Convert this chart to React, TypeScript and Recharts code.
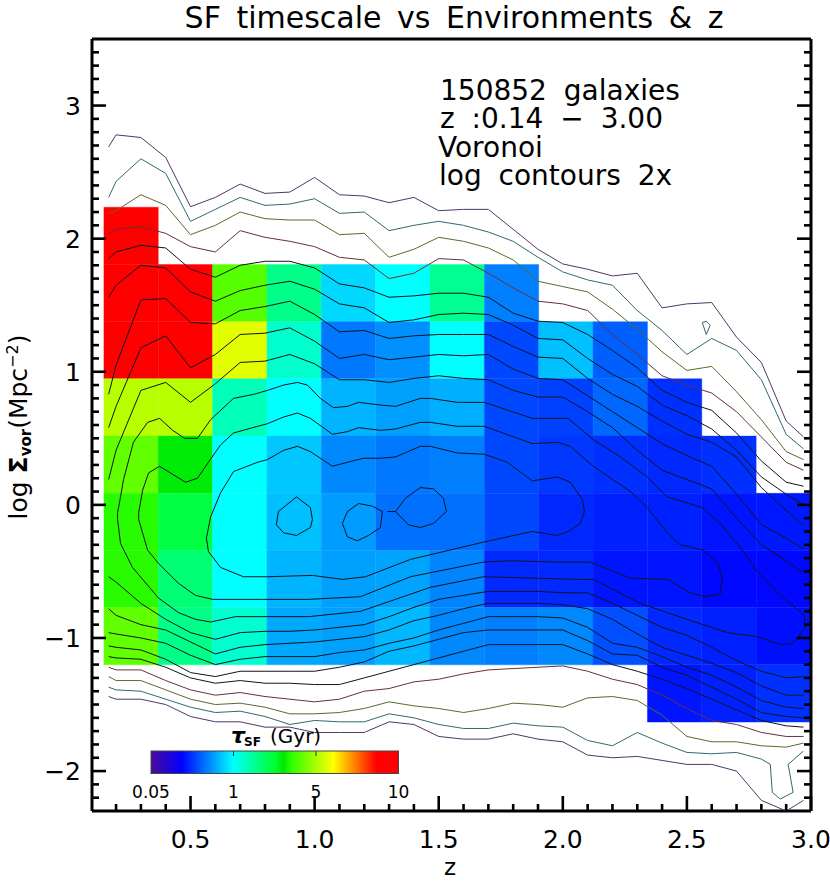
import React from 'react';
import { ScatterChart, Scatter, XAxis, YAxis, ReferenceArea } from 'recharts';

// heat map: edges of the z / log sigma bins
const zEdges = [0.151, 0.37, 0.589, 0.808, 1.027, 1.246, 1.465, 1.684, 1.903, 2.122, 2.341, 2.56, 2.779, 2.998];
const sigmaEdges = [2.236, 1.806, 1.376, 0.947, 0.517, 0.087, -0.343, -0.772, -1.202, -1.632];

// SF timescale in Gyr per bin, rows go from high to low density
const tauRows: (number | null)[][] = [
  [9, null, null, null, null, null, null, null, null, null, null, null, null],
  [9, 9, 3.63, 1.58, 0.75, 1, 1.53, 0.392, null, null, null, null, null],
  [9, 9, 5.5, 1.22, 0.37, 0.441, 1, 0.259, 0.628, 0.309, null, null, null],
  [5.14, 5.14, 1.31, 1, 0.575, 0.496, 0.558, 0.259, 0.245, 0.328, 0.217, null, null],
  [3.79, 2.59, 1, 0.667, 0.416, 0.37, 0.392, 0.259, 0.231, 0.217, 0.205, 0.217, null],
  [3.06, 2.08, 1, 0.628, 0.482, 0.348, 0.348, 0.259, 0.205, 0.193, 0.193, 0.177, 0.182],
  [3.06, 1.73, 1, 0.575, 0.496, 0.51, 0.404, 0.205, 0.205, 0.177, 0.177, 0.162, 0.162],
  [3.79, 1.58, 1.2, 0.526, 0.496, 0.592, 0.416, 0.392, 0.416, 0.275, 0.205, 0.193, 0.172],
  [null, null, null, null, null, null, null, null, null, null, 0.177, 0.193, 0.217],
];

// colour bar
const barTicks = [0.05, 1, 5, 10];
const barPos = [0, 1 / 3, 2 / 3, 1];
const rampPos = [0, 0.124, 0.333, 0.5, 0.535, 0.57, 0.737, 0.91, 1];
const rampRgb = [
  [74, 12, 154], [0, 0, 255], [0, 255, 255], [0, 255, 48], [0, 232, 0],
  [48, 255, 0], [255, 255, 0], [255, 0, 0], [255, 0, 0],
];

// contour branches sampled on a common z grid
const zGrid = [0.17, 0.2, 0.3, 0.4, 0.5, 0.6, 0.7, 0.8, 0.9, 1.0, 1.1, 1.2, 1.3, 1.4, 1.5, 1.6, 1.7, 1.8, 1.9, 2.0, 2.1, 2.2, 2.3, 2.4, 2.5, 2.6, 2.7, 2.8, 2.9, 2.97];

const top1 = [2.69, 2.78, 2.76, 2.61, 2.24, 2.31, 2.41, 2.34, 2.35, 2.46, 2.33, 2.32, 2.27, 2.31, 2.21, 2.22, 2.22, 2.07, 1.92, 1.81, 1.77, 1.72, 1.74, 1.48, 1.51, 1.52, 1.26, 1.07, 0.63, 0.51];
const top2 = [2.31, 2.43, 2.6, 2.49, 2.13, 2.22, 2.31, 2.25, 2.26, 2.3, 2.19, 2.2, 2.06, 2.1, 2.13, 2.1, 2.05, 1.98, 1.86, 1.75, 1.69, 1.65, 1.46, 1.31, 1.13, 1.25, 1.16, 0.94, 0.53, 0.42];
const top3 = [2.19, 2.21, 2.33, 2.25, 2.03, 2.1, 2.2, 2.15, 2.14, 2.14, 2.03, 2.04, 1.86, 1.92, 2.01, 1.98, 1.93, 1.84, 1.68, 1.64, 1.6, 1.47, 1.32, 1.15, 1.01, 1.04, 0.85, 0.64, 0.4, 0.34];
const top4 = [2.04, 2.07, 2.09, 2.04, 1.94, 1.9, 2.06, 2.01, 1.98, 1.94, 1.86, 1.84, 1.7, 1.74, 1.85, 1.84, 1.74, 1.63, 1.53, 1.51, 1.46, 1.28, 1.13, 0.97, 0.9, 0.84, 0.7, 0.51, 0.32, 0.26];
const top5 = [1.85, 1.9, 1.95, 1.93, 1.77, 1.71, 1.8, 1.83, 1.83, 1.78, 1.66, 1.63, 1.56, 1.57, 1.59, 1.59, 1.56, 1.44, 1.38, 1.37, 1.28, 1.16, 1.03, 0.86, 0.77, 0.71, 0.54, 0.33, 0.17, 0.14];
const top6 = [1.56, 1.65, 1.8, 1.78, 1.6, 1.53, 1.61, 1.65, 1.68, 1.62, 1.51, 1.48, 1.37, 1.39, 1.43, 1.44, 1.43, 1.35, 1.25, 1.24, 1.1, 0.98, 0.89, 0.75, 0.67, 0.57, 0.41, 0.21, 0.08, 0];
const top7 = [0.83, 1.05, 1.54, 1.55, 1.37, 1.36, 1.46, 1.49, 1.53, 1.43, 1.3, 1.31, 1.25, 1.27, 1.28, 1.28, 1.28, 1.19, 1.11, 1.1, 0.95, 0.83, 0.74, 0.63, 0.53, 0.47, 0.36, 0.13, -0.04, -0.16];
const top8 = [0.58, 0.74, 1.18, 1.27, 1.03, 1.13, 1.28, 1.29, 1.33, 1.23, 1.1, 1.13, 1.09, 1.11, 1.13, 1.12, 1.13, 1.02, 0.95, 0.94, 0.82, 0.7, 0.58, 0.46, 0.37, 0.29, 0.08, -0.15, -0.25, -0.33];
const top9 = [0.19, 0.41, 0.86, 0.92, 0.77, 0.91, 1.07, 1.08, 1.13, 1.06, 0.94, 0.94, 0.92, 0.95, 0.97, 0.95, 0.94, 0.86, 0.81, 0.81, 0.7, 0.58, 0.41, 0.26, 0.19, 0.12, -0.1, -0.3, -0.42, -0.51];

const bottom1 = [-1.44, -1.46, -1.46, -1.5, -1.59, -1.63, -1.63, -1.67, -1.67, -1.71, -1.71, -1.71, -1.63, -1.65, -1.74, -1.76, -1.76, -1.72, -1.76, -1.78, -1.88, -1.9, -1.89, -1.92, -1.95, -1.95, -2.0, -2.22, -2.3, -2.22];
const bottom2 = [-1.37, -1.39, -1.4, -1.46, -1.52, -1.56, -1.55, -1.59, -1.65, -1.62, -1.63, -1.63, -1.57, -1.6, -1.65, -1.68, -1.68, -1.64, -1.66, -1.67, -1.77, -1.81, -1.71, -1.79, -1.86, -1.87, -1.86, -1.91];
const bottom2TailZ = [2.836, 2.844, 2.876, 2.928, 2.908, 2.969];
const bottom2TailY = [-1.95, -2.16, -2.21, -2.16, -1.95, -1.85];
const bottom3 = [-1.29, -1.32, -1.32, -1.39, -1.46, -1.5, -1.49, -1.52, -1.57, -1.57, -1.56, -1.53, -1.48, -1.51, -1.53, -1.56, -1.53, -1.49, -1.5, -1.52, -1.45, -1.44, -1.47, -1.58, -1.74, -1.78, -1.78, -1.81, -1.82, -1.79];
const bottom4 = [-1.22, -1.24, -1.24, -1.32, -1.39, -1.43, -1.41, -1.44, -1.46, -1.48, -1.46, -1.4, -1.38, -1.33, -1.31, -1.27, -1.24, -1.23, -1.22, -1.21, -1.25, -1.31, -1.35, -1.43, -1.53, -1.62, -1.65, -1.71, -1.74, -1.74];
const bottom5 = [-1.14, -1.15, -1.16, -1.22, -1.3, -1.34, -1.32, -1.34, -1.34, -1.35, -1.35, -1.3, -1.25, -1.2, -1.15, -1.1, -1.05, -1.05, -1.05, -1.05, -1.12, -1.2, -1.25, -1.31, -1.38, -1.46, -1.54, -1.62, -1.66, -1.67];
const bottom6 = [-1.06, -1.07, -1.09, -1.16, -1.26, -1.29, -1.25, -1.25, -1.25, -1.25, -1.22, -1.18, -1.1, -1.06, -1.01, -0.96, -0.94, -0.94, -0.94, -0.94, -1.02, -1.12, -1.13, -1.22, -1.28, -1.37, -1.46, -1.56, -1.59, -1.6];
const bottom7 = [-0.96, -0.97, -1.0, -1.04, -1.13, -1.2, -1.16, -1.14, -1.14, -1.14, -1.11, -1.09, -1.04, -1.0, -0.94, -0.89, -0.84, -0.84, -0.84, -0.85, -0.92, -1.04, -1.07, -1.14, -1.22, -1.28, -1.37, -1.47, -1.52, -1.53];
const bottom8 = [-0.78, -0.83, -0.9, -0.94, -1.03, -1.12, -1.07, -1.05, -1.04, -1.03, -1.01, -0.99, -0.94, -0.87, -0.83, -0.78, -0.74, -0.74, -0.74, -0.75, -0.78, -0.86, -0.97, -1.07, -1.13, -1.19, -1.26, -1.36, -1.43, -1.43];
const bottom9 = [-0.54, -0.58, -0.74, -0.86, -0.96, -1.01, -0.96, -0.95, -0.95, -0.94, -0.92, -0.9, -0.84, -0.77, -0.71, -0.68, -0.65, -0.65, -0.65, -0.66, -0.66, -0.74, -0.83, -0.92, -0.98, -1.07, -1.17, -1.25, -1.3, -1.29];

// the inner levels close on themselves
const loop10Z = [0.206, 0.218, 0.23, 0.27, 0.327, 0.375, 0.428, 0.476, 0.528, 0.581, 0.673, 0.754, 0.81, 0.875, 0.931, 0.971, 1.023, 1.076, 1.132, 1.177, 1.265, 1.326, 1.426, 1.466, 1.575, 1.684, 1.877, 2.022, 2.123, 2.232, 2.34, 2.421, 2.562, 2.634, 2.715, 2.783, 2.876, 2.973, 2.977, 2.928, 2.876, 2.783, 2.663, 2.501, 2.312, 2.123, 2.071, 1.68, 1.466, 1.185, 0.975, 0.81, 0.681, 0.581, 0.52, 0.452, 0.371, 0.266, 0.218, 0.206, 0.206];
const loop10Y = [-0.06, 0.06, 0.19, 0.47, 0.62, 0.65, 0.56, 0.5, 0.5, 0.64, 0.8, 0.83, 0.86, 0.9, 0.92, 0.9, 0.8, 0.73, 0.74, 0.77, 0.75, 0.74, 0.8, 0.8, 0.77, 0.77, 0.65, 0.65, 0.49, 0.36, 0.21, 0.06, -0.02, -0.14, -0.32, -0.5, -0.68, -0.83, -0.92, -1.04, -1.05, -0.99, -0.96, -0.86, -0.74, -0.56, -0.56, -0.54, -0.62, -0.8, -0.84, -0.84, -0.84, -0.88, -0.86, -0.81, -0.7, -0.47, -0.29, -0.11, -0.06];
const loop11Z = [0.291, 0.307, 0.331, 0.375, 0.48, 0.528, 0.572, 0.621, 0.673, 0.77, 0.81, 0.875, 0.931, 0.983, 1.072, 1.132, 1.177, 1.265, 1.326, 1.426, 1.466, 1.575, 1.684, 1.877, 1.978, 2.03, 2.123, 2.272, 2.34, 2.421, 2.473, 2.566, 2.626, 2.642, 2.634, 2.574, 2.513, 2.421, 2.272, 2.111, 1.978, 1.789, 1.68, 1.386, 1.185, 0.975, 0.79, 0.589, 0.52, 0.452, 0.371, 0.327, 0.291, 0.291];
const loop11Y = [-0.06, 0.11, 0.24, 0.29, 0.17, 0.2, 0.32, 0.45, 0.54, 0.59, 0.61, 0.66, 0.69, 0.65, 0.53, 0.55, 0.58, 0.56, 0.57, 0.62, 0.62, 0.59, 0.59, 0.46, 0.47, 0.44, 0.29, 0.1, -0.02, -0.21, -0.3, -0.34, -0.44, -0.55, -0.67, -0.69, -0.66, -0.56, -0.55, -0.43, -0.43, -0.42, -0.43, -0.54, -0.69, -0.71, -0.71, -0.71, -0.68, -0.59, -0.44, -0.34, -0.11, -0.06];
const loop12Z = [0.564, 0.581, 0.621, 0.673, 0.77, 0.81, 0.875, 0.931, 0.983, 1.072, 1.132, 1.197, 1.265, 1.326, 1.426, 1.466, 1.575, 1.684, 1.777, 1.877, 1.978, 2.03, 2.079, 2.087, 2.071, 2.022, 1.978, 1.877, 1.68, 1.386, 1.205, 1.112, 0.991, 0.81, 0.713, 0.621, 0.572, 0.564];
const loop12Y = [-0.25, -0.09, 0.09, 0.25, 0.32, 0.34, 0.41, 0.44, 0.4, 0.29, 0.32, 0.35, 0.35, 0.36, 0.44, 0.44, 0.39, 0.38, 0.32, 0.18, 0.21, 0.17, 0.04, -0.05, -0.14, -0.2, -0.23, -0.2, -0.28, -0.41, -0.54, -0.56, -0.53, -0.54, -0.54, -0.47, -0.35, -0.25];
const peakAZ = [0.927, 0.983, 0.991, 0.983, 0.927, 0.875, 0.846, 0.854, 0.927];
const peakAY = [0.06, -0.02, -0.11, -0.17, -0.23, -0.21, -0.15, -0.05, 0.06];
const peakBZ = [1.177, 1.132, 1.112, 1.132, 1.172, 1.217, 1.265, 1.273, 1.233, 1.177];
const peakBY = [0.01, -0.05, -0.14, -0.24, -0.27, -0.23, -0.17, -0.05, -0.01, 0.01];
const peakCZ = [1.293, 1.326, 1.366, 1.426, 1.479, 1.519, 1.531, 1.479, 1.426, 1.378, 1.326];
const peakCY = [-0.05, -0.05, 0.05, 0.13, 0.12, 0.05, -0.05, -0.14, -0.17, -0.15, -0.05];
const islandZ = [2.562, 2.578, 2.594, 2.578, 2.562];
const islandY = [1.37, 1.38, 1.35, 1.28, 1.37];

const xMajor = [0.5, 1, 1.5, 2, 2.5, 3];
const xTicks = [0.2, 0.3, 0.4, 0.5, 0.6, 0.7, 0.8, 0.9, 1, 1.1, 1.2, 1.3, 1.4, 1.5, 1.6, 1.7, 1.8, 1.9, 2, 2.1, 2.2, 2.3, 2.4, 2.5, 2.6, 2.7, 2.8, 2.9, 3];
const yMajor = [-2, -1, 0, 1, 2, 3];
const yTicks = [-2.2, -2.1, -2, -1.9, -1.8, -1.7, -1.6, -1.5, -1.4, -1.3, -1.2, -1.1, -1, -0.9, -0.8, -0.7, -0.6, -0.5, -0.4, -0.3, -0.2, -0.1, 0, 0.1, 0.2, 0.3, 0.4, 0.5, 0.6, 0.7, 0.8, 0.9, 1, 1.1, 1.2, 1.3, 1.4, 1.5, 1.6, 1.7, 1.8, 1.9, 2, 2.1, 2.2, 2.3, 2.4, 2.5, 2.6, 2.7, 2.8, 2.9, 3, 3.1, 3.2, 3.3, 3.4];

const FONT = '"DejaVu Sans", sans-serif';
const PURPLE = '#4b3a66';
const TEAL = '#2f6a6a';
const OLIVE = '#5d6a2a';
const BROWN = '#6a2f3a';
const BLACK = '#10141c';

const onGrid = (ys: number[]) => ys.map((y, i) => ({ z: zGrid[i], y }));
const zipped = (zs: number[], ys: number[]) => zs.map((z, i) => ({ z, y: ys[i] }));

const contours = [
  { pts: onGrid(top1), color: PURPLE },
  { pts: onGrid(top2), color: TEAL },
  { pts: onGrid(top3), color: OLIVE },
  { pts: onGrid(top4), color: BROWN },
  { pts: onGrid(top5), color: BLACK },
  { pts: onGrid(top6), color: BLACK },
  { pts: onGrid(top7), color: BLACK },
  { pts: onGrid(top8), color: BLACK },
  { pts: onGrid(top9), color: BLACK },
  { pts: onGrid(bottom1), color: PURPLE },
  { pts: [...onGrid(bottom2), ...zipped(bottom2TailZ, bottom2TailY)], color: TEAL },
  { pts: onGrid(bottom3), color: OLIVE },
  { pts: onGrid(bottom4), color: BROWN },
  { pts: onGrid(bottom5), color: BLACK },
  { pts: onGrid(bottom6), color: BLACK },
  { pts: onGrid(bottom7), color: BLACK },
  { pts: onGrid(bottom8), color: BLACK },
  { pts: onGrid(bottom9), color: BLACK },
  { pts: zipped(loop10Z, loop10Y), color: BLACK },
  { pts: zipped(loop11Z, loop11Y), color: BLACK },
  { pts: zipped(loop12Z, loop12Y), color: BLACK },
  { pts: zipped(peakAZ, peakAY), color: BLACK },
  { pts: zipped(peakBZ, peakBY), color: BLACK },
  { pts: zipped(peakCZ, peakCY), color: BLACK },
  { pts: zipped(islandZ, islandY), color: TEAL },
];

// position on the colour bar: log spaced between its labelled values
const tauToPos = (tau: number) => {
  let i = 0;
  while (i < barTicks.length - 2 && tau > barTicks[i + 1]) i++;
  const f = Math.log(tau / barTicks[i]) / Math.log(barTicks[i + 1] / barTicks[i]);
  return barPos[i] + f * (barPos[i + 1] - barPos[i]);
};

const posToColor = (p: number) => {
  let i = 0;
  while (i < rampPos.length - 2 && p > rampPos[i + 1]) i++;
  const f = Math.min(1, Math.max(0, (p - rampPos[i]) / (rampPos[i + 1] - rampPos[i])));
  const c = rampRgb[i].map((v, k) => Math.round(v + f * (rampRgb[i + 1][k] - v)));
  return `rgb(${c[0]},${c[1]},${c[2]})`;
};

const XTick = ({ x, y, payload, side }: any) => {
  const major = xMajor.includes(payload.value);
  const len = major ? 15 : 7;
  const dir = side === 'bottom' ? -1 : 1;
  return (
    <g>
      <line x1={x} x2={x} y1={y} y2={y + dir * len} stroke="#000" strokeWidth={2.6} />
      {side === 'bottom' && major && (
        <text x={x} y={y + 37} textAnchor="middle" fontSize={25} fontFamily={FONT} fill="#000">
          {payload.value.toFixed(1)}
        </text>
      )}
    </g>
  );
};

const YTick = ({ x, y, payload, side }: any) => {
  const major = yMajor.includes(payload.value);
  const len = major ? 14 : 7;
  const dir = side === 'left' ? 1 : -1;
  return (
    <g>
      <line x1={x} x2={x + dir * len} y1={y} y2={y} stroke="#000" strokeWidth={2.6} />
      {side === 'left' && major && (
        <text x={x - 11} y={y + 9} textAnchor="end" fontSize={25} fontFamily={FONT} fill="#000">
          {payload.value < 0 ? `\u2212${-payload.value}` : payload.value}
        </text>
      )}
    </g>
  );
};

const noDot = () => <g />;

const Overlay = () => (
  <svg width={830} height={881} style={{ position: 'absolute', left: 0, top: 0, pointerEvents: 'none' }} fontFamily={FONT}>
    <defs>
      <linearGradient id="ramp" x1="0" x2="1" y1="0" y2="0">
        {rampPos.map((p, i) => (
          <stop key={i} offset={p} stopColor={`rgb(${rampRgb[i].join(',')})`} />
        ))}
      </linearGradient>
    </defs>
    <text x={454} y={28} textAnchor="middle" fontSize={30} wordSpacing={6}>SF timescale vs Environments &amp; z</text>
    <g fontSize={28} wordSpacing={8}>
      <text x={440} y={100}>150852 galaxies</text>
      <text x={440} y={128}>z :0.14 {'\u2212'} 3.00</text>
      <text x={438} y={157}>Voronoi</text>
      <text x={439} y={185}>log contours 2x</text>
    </g>
    <text x={450} y={875} textAnchor="middle" fontSize={23}>z</text>
    <text transform="translate(27,427) rotate(-90)" textAnchor="middle" fontSize={25}>
      log <tspan fontWeight="bold">{'\u03a3'}</tspan>
      <tspan fontSize={15} fontWeight="bold" dy={4}>vor</tspan>
      <tspan dy={-4}>(Mpc</tspan>
      <tspan fontSize={16} dy={-9}>{'\u2212'}2</tspan>
      <tspan dy={9}>)</tspan>
    </text>
    <rect x={151} y={751} width={247.5} height={22.5} fill="url(#ramp)" stroke="#444" strokeWidth={1} />
    {barTicks.map((t, i) => {
      const bx = 151 + barPos[i] * 247.5;
      return (
        <g key={t}>
          {i > 0 && i < barTicks.length - 1 && <line x1={bx} x2={bx} y1={751} y2={756} stroke="#333" />}
          <text x={bx} y={798} textAnchor="middle" fontSize={17}>{t}</text>
        </g>
      );
    })}
    <text x={231} y={743} fontSize={22} fontStyle="italic" fontWeight="bold">{'\u03c4'}</text>
    <text x={244} y={746} fontSize={12} fontWeight="bold">SF</text>
    <text x={270} y={743} fontSize={20}>(Gyr)</text>
  </svg>
);

export default function App() {
  return (
    <div style={{ position: 'absolute', left: 0, top: 0, width: 830, height: 881, background: '#fff' }}>
      <ScatterChart width={830} height={881} margin={{ top: 0, right: 0, bottom: 0, left: 0 }}>
        <XAxis type="number" dataKey="z" domain={[0.103, 3]} ticks={xTicks} interval={0} height={70} tickSize={0} tickMargin={0}
          stroke="#000" strokeWidth={3} tickLine={false} tick={(p: any) => <XTick {...p} side="bottom" />} allowDataOverflow />
        <XAxis xAxisId="top" orientation="top" type="number" domain={[0.103, 3]} ticks={xTicks} interval={0} height={39} tickSize={0} tickMargin={0}
          stroke="#000" strokeWidth={3} tickLine={false} tick={(p: any) => <XTick {...p} side="top" />} allowDataOverflow />
        <YAxis type="number" dataKey="y" domain={[-2.3, 3.5]} ticks={yTicks} interval={0} width={92} tickSize={0} tickMargin={0}
          stroke="#000" strokeWidth={3} tickLine={false} tick={(p: any) => <YTick {...p} side="left" />} allowDataOverflow />
        <YAxis yAxisId="right" orientation="right" type="number" domain={[-2.3, 3.5]} ticks={yTicks} interval={0} width={19} tickSize={0} tickMargin={0}
          stroke="#000" strokeWidth={3} tickLine={false} tick={(p: any) => <YTick {...p} side="right" />} allowDataOverflow />
        {tauRows.flatMap((row, r) =>
          row.map((tau, c) => {
            if (tau === null) return null;
            const color = posToColor(tauToPos(tau));
            return (
              <ReferenceArea key={`${r}-${c}`} x1={zEdges[c]} x2={zEdges[c + 1]} y1={sigmaEdges[r + 1]} y2={sigmaEdges[r]}
                fill={color} fillOpacity={1} stroke={color} strokeWidth={0.4} />
            );
          })
        )}
        {contours.map((c, i) => (
          <Scatter key={i} data={c.pts} line={{ stroke: c.color, strokeWidth: 1 }} shape={noDot} isAnimationActive={false} />
        ))}
      </ScatterChart>
      <Overlay />
    </div>
  );
}
